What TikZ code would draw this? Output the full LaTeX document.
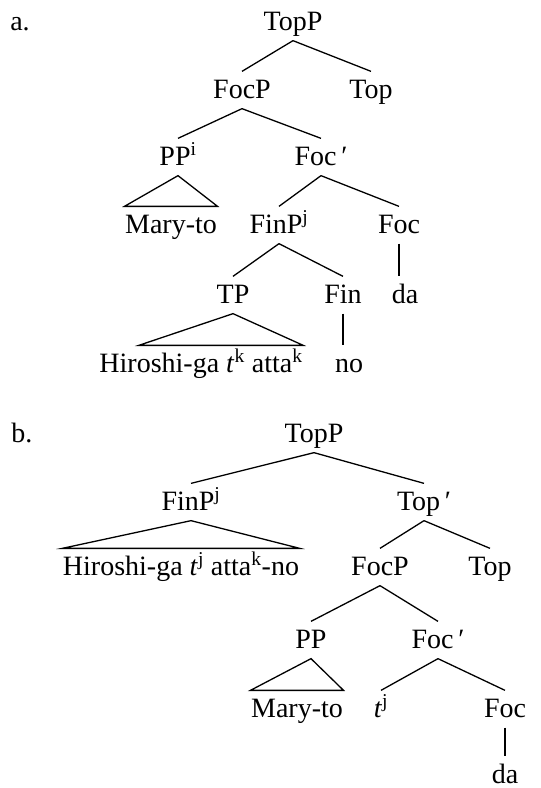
\documentclass[tikz,border=0pt]{standalone}
\usepackage{fontspec}
\setmainfont{Liberation Serif}
\begin{document}
\begin{tikzpicture}[x=1pt, y=-1pt, line width=1.3pt]
        \useasboundingbox (0,0) rectangle (541,788);
        \begin{scope}[every node/.style={anchor=base, inner xsep=0pt, inner ysep=5pt,
                text height=21pt, text depth=5pt, font=\fontsize{28}{33}\selectfont}]
            % tree a
            \node (aLbl) at (20,30) {a.};
            \node (aTopP) at (293,30) {TopP};
            \node (aFocP) at (242,98) {FocP};
            \node (aTop) at (371,98) {Top};
            \node (aPP) at (178,165) {PP\textsuperscript{i}};
            \node (aFocbar) at (321,165) {Foc\,′};
            \node (aMary) at (171,233) {Mary-to};
            \node (aFinP) at (279,233) {FinP\textsuperscript{j}};
            \node (aFoc) at (399,233) {Foc};
            \node (aTP) at (233,303) {TP};
            \node (aFin) at (343,303) {Fin};
            \node (aDa) at (405,303) {da};
            \node (aHiro) at (201,372) {Hiroshi-ga \textit{t}\textsuperscript{k} atta\textsuperscript{k}};
            \node (aNo) at (349,372) {no};
            % tree b
            \node (bLbl) at (22,442) {b.};
            \node (bTopP) at (314,442) {TopP};
            \node (bFinP) at (191,510) {FinP\textsuperscript{j}};
            \node (bTopbar) at (424,510) {Top\,′};
            \node (bHiro) at (181,575) {Hiroshi-ga \textit{t}\textsuperscript{j} atta\textsuperscript{k}-no};
            \node (bFocP) at (380,575) {FocP};
            \node (bTop) at (490,575) {Top};
            \node (bPP) at (311,648) {PP};
            \node (bFocbar) at (438,648) {Foc\,′};
            \node (bMary) at (297,717) {Mary-to};
            \node (bT) at (381,717) {\textit{t}\textsuperscript{j}};
            \node (bFoc) at (505,717) {Foc};
            \node (bDa) at (505,783) {da};
        \end{scope}
        \begin{scope}[every edge/.style={draw=black}]
            \draw (aTopP.south) edge (aFocP.north) edge (aTop.north);
            \draw (aFocP.south) edge (aPP.north) edge (aFocbar.north);
            \draw (aFocbar.south) edge (aFinP.north) edge (aFoc.north);
            \draw (aFinP.south) edge (aTP.north) edge (aFin.north);
            \draw (aFoc.south) edge (aFoc.south |- aDa.north);
            \draw (aFin.south) edge (aFin.south |- aNo.north);
            \draw (bTopP.south) edge (bFinP.north) edge (bTopbar.north);
            \draw (bTopbar.south) edge (bFocP.north) edge (bTop.north);
            \draw (bFocP.south) edge (bPP.north) edge (bFocbar.north);
            \draw (bFocbar.south) edge (bT.north) edge (bFoc.north);
            \draw (bFoc.south) edge (bDa.north);
        \end{scope}
        % triangles
        \draw (aPP.south) -- (aMary.north west) -- (aMary.north east) -- cycle;
        \draw (aTP.south) -- ([xshift=40pt]aHiro.north west) -- (aHiro.north east) -- cycle;
        \draw (bFinP.south) -- (bHiro.north west) -- (bHiro.north east) -- cycle;
        \draw (bPP.south) -- (bMary.north west) -- (bMary.north east) -- cycle;
    \end{tikzpicture}
\end{document}
